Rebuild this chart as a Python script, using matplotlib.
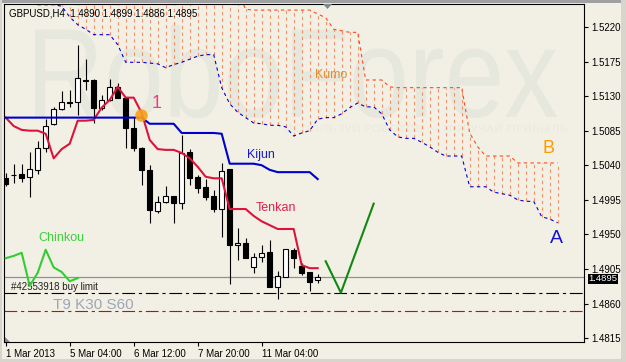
import matplotlib
matplotlib.use("Agg")
import matplotlib.pyplot as plt
from matplotlib.patches import PathPatch, Polygon, Rectangle
from matplotlib.textpath import TextPath
from matplotlib.font_manager import FontProperties
from matplotlib.transforms import Affine2D, IdentityTransform

plt.rcParams["font.family"] = ["Liberation Sans", "DejaVu Sans"]

# H4 candles, bar index 0 = first visible bar
opens = [1.5023, 1.5027, 1.5029, 1.5025, 1.5034, 1.5062, 1.5094, 1.5113, 1.5122, 1.5122,
         1.5151, 1.5151, 1.5115, 1.5125, 1.5142, 1.5128, 1.5089, 1.5062, 1.5034, 1.4980,
         1.4992, 1.5000, 1.4991, 1.5057, 1.5025, 1.5012, 1.5000, 1.4983, 1.5035, 1.4936,
         1.4939, 1.4907, 1.4921, 1.4927, 1.4881, 1.4894, 1.4930, 1.4909, 1.4901, 1.4891]
highs = [1.5030, 1.5042, 1.5042, 1.5057, 1.5072, 1.5100, 1.5116, 1.5137, 1.5138, 1.5197,
         1.5178, 1.5152, 1.5131, 1.5152, 1.5147, 1.5128, 1.5103, 1.5064, 1.5040, 1.5000,
         1.5013, 1.5000, 1.5079, 1.5061, 1.5027, 1.5022, 1.5008, 1.5043, 1.5035, 1.4958,
         1.4945, 1.4926, 1.4936, 1.4943, 1.4902, 1.4931, 1.4932, 1.4913, 1.4901, 1.4898]
lows = [1.5013, 1.5017, 1.5018, 1.4999, 1.5029, 1.5057, 1.5092, 1.5112, 1.5116, 1.5105,
        1.5138, 1.5095, 1.5112, 1.5124, 1.5128, 1.5062, 1.5059, 1.5014, 1.4965, 1.4978,
        1.4991, 1.4965, 1.4983, 1.5014, 1.5004, 1.4995, 1.4979, 1.4947, 1.4885, 1.4917,
        1.4919, 1.4900, 1.4914, 1.4881, 1.4866, 1.4894, 1.4906, 1.4897, 1.4876, 1.4887]
closes = [1.5016, 1.5027, 1.5023, 1.5035, 1.5062, 1.5091, 1.5113, 1.5122, 1.5121, 1.5154,
          1.5150, 1.5115, 1.5125, 1.5142, 1.5128, 1.5089, 1.5062, 1.5034, 1.4982, 1.4992,
          1.5000, 1.4991, 1.5056, 1.5023, 1.5010, 1.4999, 1.4983, 1.5033, 1.4936, 1.4939,
          1.4919, 1.4921, 1.4926, 1.4881, 1.4896, 1.4931, 1.4919, 1.4900, 1.4888, 1.4895]

tenkan = [1.5102, 1.5091, 1.5086, 1.5085, 1.5085, 1.5081, 1.5049, 1.5061, 1.5068, 1.5098,
          1.5098, 1.5099, 1.5115, 1.5125, 1.5142, 1.5128, 1.5128, 1.5108, 1.5073, 1.5061,
          1.5060, 1.5060, 1.5056, 1.5049, 1.5038, 1.5025, 1.5023, 1.5023, 1.4983, 1.4983,
          1.4983, 1.4974, 1.4967, 1.4962, 1.4957, 1.4957, 1.4957, 1.4910, 1.4906, 1.4906]
kijun = [1.5102, 1.5102, 1.5102, 1.5102, 1.5102, 1.5102, 1.5102, 1.5102, 1.5102, 1.5102,
         1.5102, 1.5102, 1.5102, 1.5102, 1.5102, 1.5102, 1.5102, 1.5102, 1.5094, 1.5094,
         1.5094, 1.5094, 1.5082, 1.5082, 1.5082, 1.5082, 1.5082, 1.5081, 1.5042, 1.5042,
         1.5042, 1.5042, 1.5040, 1.5034, 1.5031, 1.5031, 1.5031, 1.5031, 1.5031, 1.5022]
chinkou = [1.4919, 1.4922, 1.4926, 1.4883, 1.4900, 1.4930, 1.4907, 1.4901, 1.4889, 1.4893]

# cloud, starting at bar 4 and running to bar 69
cloud_start = 4
senkou_a = [1.5249, 1.5249, 1.5249, 1.5247, 1.5233, 1.5223, 1.5217, 1.5210, 1.5210, 1.5210,
            1.5197, 1.5174, 1.5174, 1.5174, 1.5173, 1.5172, 1.5167, 1.5171, 1.5174, 1.5178,
            1.5182, 1.5184, 1.5184, 1.5141, 1.5120, 1.5109, 1.5102, 1.5095, 1.5094, 1.5092,
            1.5092, 1.5090, 1.5078, 1.5082, 1.5085, 1.5100, 1.5102, 1.5102, 1.5107, 1.5115,
            1.5121, 1.5116, 1.5116, 1.5107, 1.5086, 1.5077, 1.5075, 1.5075, 1.5070, 1.5064,
            1.5057, 1.5052, 1.5052, 1.5052, 1.5012, 1.5012, 1.5012, 1.5005, 1.5003, 1.5001,
            1.4995, 1.4993, 1.4993, 1.4973, 1.4970, 1.4965]
senkou_b = [1.5265, 1.5265, 1.5265, 1.5265, 1.5265, 1.5265, 1.5265, 1.5265, 1.5265, 1.5265,
            1.5265, 1.5265, 1.5265, 1.5265, 1.5265, 1.5265, 1.5265, 1.5265, 1.5265, 1.5265,
            1.5265, 1.5265, 1.5265, 1.5265, 1.5265, 1.5265, 1.5243, 1.5242, 1.5242, 1.5242,
            1.5242, 1.5242, 1.5242, 1.5242, 1.5242, 1.5237, 1.5232, 1.5217, 1.5215, 1.5213,
            1.5213, 1.5151, 1.5151, 1.5151, 1.5142, 1.5141, 1.5141, 1.5141, 1.5141, 1.5141,
            1.5141, 1.5141, 1.5141, 1.5141, 1.5082, 1.5064, 1.5052, 1.5052, 1.5052, 1.5052,
            1.5043, 1.5043, 1.5043, 1.5043, 1.5043, 1.5043]

forecast_x = [40.0, 41.9, 46.0]
forecast_y = [1.4915, 1.4874, 1.4990]

last_price = 1.4895
buy_limit = 1.4874
stop_level = 1.4850

y_ticks = [1.4815, 1.4860, 1.4905, 1.4950, 1.4995, 1.5040, 1.5085, 1.5130, 1.5175, 1.5220]
x_ticks = [0, 8, 16, 24, 32]
x_labels = ["1 Mar 2013", "5 Mar 04:00", "6 Mar 12:00", "7 Mar 20:00", "11 Mar 04:00"]

BG = "#F2F0E4"
W, H = 626, 362

fig = plt.figure(figsize=(W / 100, H / 100), dpi=100, facecolor=BG)
ax = fig.add_axes([4 / W, (H - 342) / H, 580 / W, 338 / H])
ax.set_facecolor("none")


def fit_text(text, x0, x1, y0, y1, color, family="Liberation Sans"):
    # text as a path stretched into a pixel box (image coords, y from top)
    tp = TextPath((0, 0), text, size=100, prop=FontProperties(family=family))
    ext = tp.get_extents()
    tr = (Affine2D().translate(-ext.x0, -ext.y0)
          .scale((x1 - x0) / ext.width, (y1 - y0) / ext.height)
          .translate(x0, H - y1))
    fig.add_artist(PathPatch(tr.transform_path(tp), transform=IdentityTransform(),
                             fc=color, ec="none", zorder=-5))


fit_text("RoboForex", 35, 557, 25, 118, "#E6E7DD")
fit_text("ИСПОЛЬЗУЙ РОБОТОВ — ПОЛУЧАЙ ПРИБЫЛЬ", 285, 567, 123, 132, "#EAEADF", "DejaVu Sans")

# cloud hatch and borders
cx = list(range(cloud_start, cloud_start + len(senkou_a)))
ax.vlines(cx, senkou_a, senkou_b, colors="#F4906A", lw=0.8, linestyles=(0, (3, 3)), zorder=1)
ax.plot(cx, senkou_b, color="#FF4A1A", lw=0.8, ls=(0, (3, 3)), zorder=2)
ax.plot(cx, senkou_a, color="#0000E0", lw=0.8, ls=(0, (3, 3)), zorder=2)

# horizontal levels
ax.axhline(last_price, color="#8C9298", lw=0.9, zorder=2)
ax.axhline(buy_limit, color="black", lw=0.8, ls=(0, (11.5, 3.4, 2.9, 3.4)), zorder=2)
ax.axhline(stop_level, color="#E00000", lw=0.8, ls=(0, (11.5, 3.4, 2.9, 3.4)), zorder=2)

# candles
bars = list(range(len(closes)))
ax.vlines(bars, lows, highs, colors="black", lw=0.8, zorder=3)
body_lo = [min(o, c) for o, c in zip(opens, closes)]
body_h = [max(abs(c - o), 0.00001) for o, c in zip(opens, closes)]
body_c = ["white" if c >= o else "black" for o, c in zip(opens, closes)]
ax.bar(bars, body_h, bottom=body_lo, width=0.6, color=body_c, edgecolor="black",
       lw=0.8, zorder=4)

# ichimoku lines
ax.plot(bars, tenkan, color="#DC143C", lw=1.5, zorder=5)
ax.plot(bars, kijun, color="#0000CD", lw=1.5, zorder=5)
ax.plot(range(len(chinkou)), chinkou, color="#32CD32", lw=1.5, zorder=5)
ax.plot(forecast_x, forecast_y, color="#118811", lw=1.5, zorder=5)

ax.plot([16.9], [1.5105], marker="o", ms=9, color="#F7A11A", mec="none", alpha=0.9, zorder=6)

# labels
ax.text(18.9, 1.5121, "1", color="#E3457A", fontsize=13, ha="center", va="center")
ax.text(31.9, 1.5053, "Kijun", color="#1A1ACC", fontsize=9, ha="center", va="center")
ax.text(33.8, 1.4984, "Tenkan", color="#E0204A", fontsize=9, ha="center", va="center")
ax.text(6.9, 1.4945, "Chinkou", color="#3CD03C", fontsize=9, ha="center", va="center")
ax.text(40.7, 1.5158, "Kumo", color="#E0902A", fontsize=9, ha="center", va="center")
ax.text(67.8, 1.5062, "B", color="#FF9900", fontsize=13, ha="center", va="center")
ax.text(68.9, 1.4945, "A", color="#1414D0", fontsize=14, ha="center", va="center")
ax.text(0.66, 1.4881, "#42553918 buy limit", color="#202020", fontsize=7, ha="left", va="center")
ax.text(10.9, 1.4858, "T9 K30 S60", color="#9CA6B8", fontsize=11, ha="center", va="center")
ax.text(0.0086, 0.973, "GBPUSD,H4  1.4890 1.4899 1.4886 1.4895", transform=ax.transAxes,
        color="black", fontsize=7, ha="left", va="center")

# current price box on the scale
ax.annotate(f"{last_price:.4f}", xy=(1.0075, last_price), xycoords=ax.get_yaxis_transform(),
            xytext=(0, -1.5), textcoords="offset points",
            color="white", fontsize=6.8, ha="left", va="center", annotation_clip=False,
            zorder=10, bbox=dict(boxstyle="square,pad=0.05", fc="black", ec="none"))

ax.set_xlim(-0.2125, 72.29)
ax.set_ylim(1.48099, 1.52499)
ax.yaxis.tick_right()
ax.set_yticks(y_ticks)
ax.set_yticklabels([f"{v:.4f}" for v in y_ticks])
ax.set_xticks(x_ticks)
ax.set_xticklabels(x_labels, ha="left")
ax.tick_params(axis="y", direction="out", length=3, width=0.8, pad=2, labelsize=7)
ax.tick_params(axis="x", direction="out", length=3, width=0.8, pad=2, labelsize=7)
for s in ax.spines.values():
    s.set_color("black")
    s.set_linewidth(0.8)

# small markers of the terminal
fig.add_artist(Polygon([(323, H - 4), (332, H - 4), (327.5, H - 9)], closed=True,
                       transform=IdentityTransform(), fc="#7F8790", ec="none", zorder=5))
fig.add_artist(Polygon([(4.5, H - 337), (4.5, H - 342), (10, H - 342)], closed=True,
                       transform=IdentityTransform(), fc="#7F8790", ec="none", zorder=5))

# window frame
for rect, col in [((0, H - 3, W, 3), "#A0A0A0"), ((W - 5, 0, 5, H), "#D8D6CC"),
                  ((0, 0, W, 3), "#D8D6CC"), ((0, 0, 1.5, H), "#D8D6CC")]:
    fig.add_artist(Rectangle(rect[:2], rect[2], rect[3], transform=IdentityTransform(),
                             fc=col, ec="none", zorder=6))

fig.savefig("out.png", dpi=100, facecolor=BG)
plt.close(fig)
